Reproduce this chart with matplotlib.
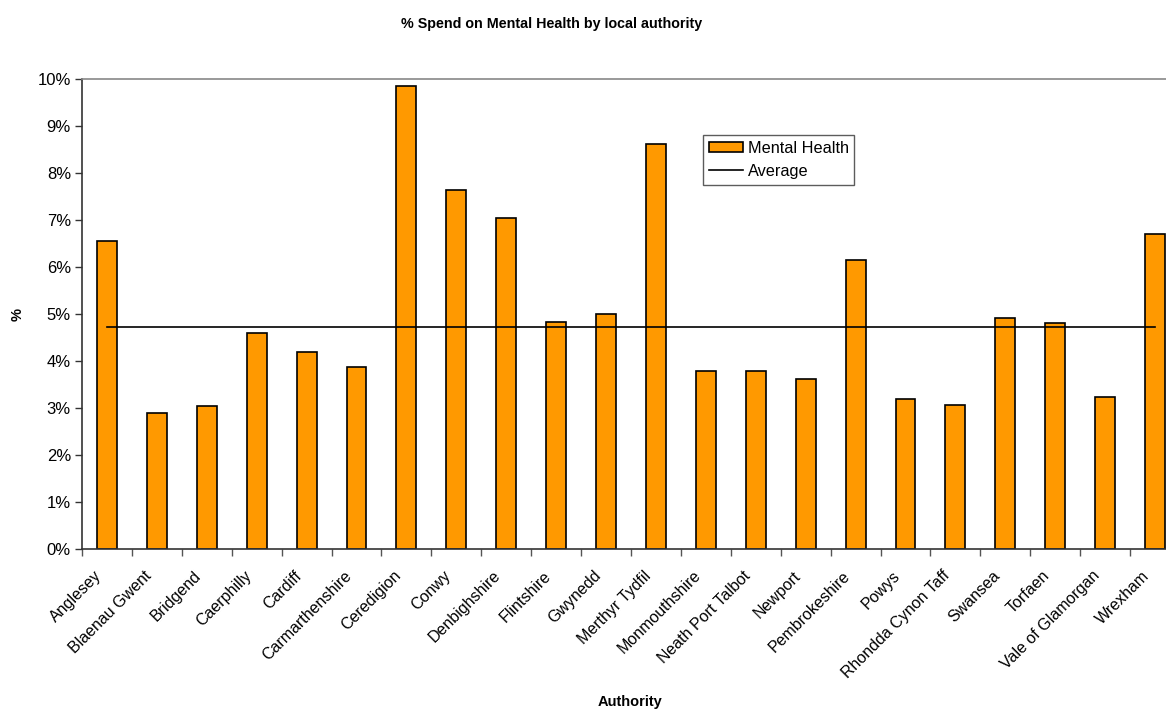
import matplotlib
matplotlib.use("Agg")
import matplotlib.pyplot as plt
import matplotlib.transforms as mtransforms
import numpy as np

plt.rcParams['font.family'] = ['Liberation Sans', 'DejaVu Sans']

authorities = ["Anglesey", "Blaenau Gwent", "Bridgend", "Caerphilly", "Cardiff",
               "Carmarthenshire", "Ceredigion", "Conwy", "Denbighshire", "Flintshire",
               "Gwynedd", "Merthyr Tydfil", "Monmouthshire", "Neath Port Talbot",
               "Newport", "Pembrokeshire", "Powys", "Rhondda Cynon Taff", "Swansea",
               "Torfaen", "Vale of Glamorgan", "Wrexham"]
mental_health = [6.55, 2.90, 3.05, 4.59, 4.20, 3.88, 9.84, 7.63, 7.04, 4.82,
                 4.99, 8.61, 3.79, 3.78, 3.62, 6.14, 3.19, 3.07, 4.92, 4.80,
                 3.24, 6.71]
average = 4.73
yticks = [0, 1, 2, 3, 4, 5, 6, 7, 8, 9, 10]

W, H = 1166, 710
fig = plt.figure(figsize=(W / 100, H / 100), dpi=100)
left, right = 82, 1180
top, bottom = 78.7, 549.3
ax = fig.add_axes([left / W, 1 - bottom / H, (right - left) / W, (bottom - top) / H])

x = np.arange(len(authorities))
bars = ax.bar(x, mental_health, width=0.4, color='#FF9900', edgecolor='black',
              linewidth=1.2, label='Mental Health', zorder=2)
line, = ax.plot([x[0], x[-1]], [average, average], color='black', linewidth=1.2,
                label='Average', zorder=3)

ax.set_xlim(-0.5, len(authorities) - 0.5)
ax.set_ylim(0, 10)
ax.set_yticks(yticks)
ax.set_yticklabels([f"{v}%" for v in yticks], fontsize=12)
ax.set_xticks(x)
ax.set_xticklabels(authorities, rotation=45, ha='right', rotation_mode='anchor',
                   fontsize=11.5)
ax.tick_params(axis='x', which='major', length=0, pad=12)
offset = mtransforms.ScaledTranslation(-0.13, -0.02, fig.dpi_scale_trans)
for lbl in ax.get_xticklabels():
    lbl.set_transform(lbl.get_transform() + offset)
ax.set_xticks(np.arange(len(authorities) + 1) - 0.5, minor=True)
ax.tick_params(axis='x', which='minor', length=5, width=1, color='#555555')
ax.tick_params(axis='y', length=5, width=1, color='#333333', pad=3)

ax.spines['right'].set_visible(False)
ax.spines['top'].set_color('#888888')
ax.spines['top'].set_linewidth(1.2)
ax.spines['left'].set_color('#333333')
ax.spines['bottom'].set_color('#333333')
ax.spines['left'].set_linewidth(1.2)
ax.spines['bottom'].set_linewidth(1.2)

leg = ax.legend([bars, line], ['Mental Health', 'Average'],
                loc='upper left', bbox_to_anchor=(703 / W, 1 - 135 / H),
                bbox_transform=fig.transFigure, fontsize=11.7, frameon=True,
                fancybox=False, edgecolor='#333333', handlelength=2.1,
                handleheight=0.6, borderpad=0.35, labelspacing=0.5,
                handletextpad=0.3, borderaxespad=0)
leg.get_frame().set_linewidth(1.0)

fig.text(552 / W, 1 - 24 / H, "% Spend on Mental Health by local authority",
         ha='center', va='center', fontsize=10.3, fontweight='bold')
fig.text(18 / W, 1 - 314 / H, "%", ha='center', va='center', rotation=90,
         fontsize=10.5, fontweight='bold')
fig.text(630 / W, 1 - 702 / H, "Authority", ha='center', va='center',
         fontsize=10.5, fontweight='bold')

fig.savefig("out.png", dpi=100)
